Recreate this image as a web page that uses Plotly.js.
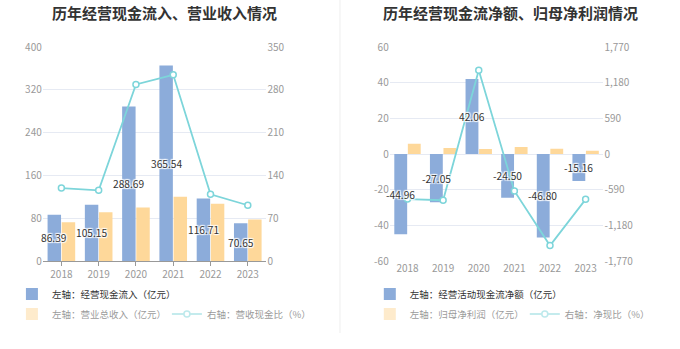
<!DOCTYPE html>
<html><head><meta charset="utf-8">
<script src="https://cdn.plot.ly/plotly-3.0.1.min.js"></script>
<style>html,body{margin:0;padding:0;background:#fff}#chart{width:680px;height:349px}</style>
</head><body><div id="chart"></div>
<script>
// ---- data ----
const years = ['2018','2019','2020','2021','2022','2023'];
const cashInflow = [86.39, 105.15, 288.69, 365.54, 116.71, 70.65];
const revenue = [72.5, 91, 100, 120, 107, 77.5];
const cashRevenueRatio = [119.2, 115.6, 288.7, 304.6, 109.1, 91.2];
const netCashFlow = [-44.96, -27.05, 42.06, -24.50, -46.80, -15.16];
const netProfit = [5.8, 3.4, 2.8, 3.9, 3.0, 1.85];
const netCashRatio = [-745, -765, 1385, -610, -1515, -750];

const leftTicks = [0, 80, 160, 240, 320, 400];
const leftRightTicks = [0, 70, 140, 210, 280, 350];
const rightTicks = [-60, -40, -20, 0, 20, 40, 60];
const rightRightTicks = [-1770, -1180, -590, 0, 590, 1180, 1770];
const rightRightTickText = ['-1,770', '-1,180', '-590', '0', '590', '1,180', '1,770'];

const names = {
  inflow: '左轴：经营现金流入（亿元）',
  revenue: '左轴：营业总收入（亿元）',
  ratio1: '右轴：营收现金比（%）',
  ncf: '左轴：经营活动现金流净额（亿元）',
  profit: '左轴：归母净利润（亿元）',
  ratio2: '右轴：净现比（%）'
};
const titles = ['历年经营现金流入、营业收入情况', '历年经营现金流净额、归母净利润情况'];

// ---- style ----
const W = 680, H = 349;
const BLUE = '#8cacda', YELLOW = '#fed89a', TEAL = '#7dd5da';
const FONT = 'Noto Sans CJK SC, Noto Sans, sans-serif';
const GRID = '#e6eaf3', AX = '#999';
const shadow = '1px 1px 1px #fff, -1px -1px 1px #fff, 1px -1px 1px #fff, -1px 1px 1px #fff, 0 0 2px #fff';
const labelFont = {family: FONT, size: 10.2, color: '#333', shadow: shadow};
const tickFont = {family: FONT, size: 10, color: '#999'};

const Lx = [43 / W, 268 / W], Rx = [392 / W, 607 / W];
const Yd = [(H - 261) / H, (H - 47) / H];
const zeroFrac = Yd[0] + (Yd[1] - Yd[0]) * (0 - rightTicks[0]) / (rightTicks[rightTicks.length - 1] - rightTicks[0]);

const lineStyle = {mode: 'lines+markers', line: {color: TEAL, width: 1.8}, marker: {symbol: 'circle', size: 6, color: '#fff', line: {color: TEAL, width: 1.5}}};

const traces = [
  {type: 'bar', x: years, y: cashInflow, name: names.inflow, marker: {color: BLUE}, xaxis: 'x', yaxis: 'y', legend: 'legend', hoverinfo: 'none'},
  {type: 'bar', x: years, y: revenue, name: names.revenue, marker: {color: YELLOW}, xaxis: 'x', yaxis: 'y', showlegend: false, hoverinfo: 'none'},
  Object.assign({type: 'scatter', x: years, y: cashRevenueRatio, name: names.ratio1, xaxis: 'x', yaxis: 'y2', showlegend: false, hoverinfo: 'none'}, lineStyle),
  {type: 'bar', x: years, y: revenue, name: names.revenue, marker: {color: YELLOW}, xaxis: 'x', yaxis: 'y', legend: 'legend2', visible: 'legendonly'},
  Object.assign({type: 'scatter', x: years, y: cashRevenueRatio, name: names.ratio1, xaxis: 'x', yaxis: 'y2', legend: 'legend2', visible: 'legendonly'}, lineStyle),

  {type: 'bar', x: years, y: netCashFlow, name: names.ncf, marker: {color: BLUE}, xaxis: 'x2', yaxis: 'y3', legend: 'legend3', hoverinfo: 'none'},
  {type: 'bar', x: years, y: netProfit, name: names.profit, marker: {color: YELLOW}, xaxis: 'x2', yaxis: 'y3', showlegend: false, hoverinfo: 'none'},
  Object.assign({type: 'scatter', x: years, y: netCashRatio, name: names.ratio2, xaxis: 'x2', yaxis: 'y4', showlegend: false, hoverinfo: 'none'}, lineStyle),
  {type: 'bar', x: years, y: netProfit, name: names.profit, marker: {color: YELLOW}, xaxis: 'x2', yaxis: 'y3', legend: 'legend4', visible: 'legendonly'},
  Object.assign({type: 'scatter', x: years, y: netCashRatio, name: names.ratio2, xaxis: 'x2', yaxis: 'y4', legend: 'legend4', visible: 'legendonly'}, lineStyle)
];

// value labels centred in the blue bars (drawn above all bars); x = category index
function barLabels(vals, xref, yref, shift) {
  return years.map((yr, i) => ({
    xref: xref, yref: yref, x: i, y: vals[i] / 2, xshift: shift,
    xanchor: 'center', yanchor: 'middle', showarrow: false,
    text: vals[i].toFixed(2), font: labelFont
  }));
}

const legendBase = {orientation: 'h', bgcolor: 'rgba(0,0,0,0)', font: {family: FONT, size: 9.5, color: '#333'}, xanchor: 'left', yanchor: 'middle', traceorder: 'normal', itemclick: false, entrywidthmode: 'pixels'};
const idx = years.map((_, i) => i);

const layout = {
  width: W, height: H,
  margin: {l: 0, r: 0, t: 0, b: 0},
  paper_bgcolor: '#fff', plot_bgcolor: '#fff',
  font: {family: FONT},
  barmode: 'group', bargap: 0.24, bargroupgap: 0.05,
  showlegend: true,
  xaxis: {domain: Lx, anchor: 'y', type: 'category', categoryorder: 'array', categoryarray: years, range: [-0.5, years.length - 0.5], showline: true, linecolor: AX, linewidth: 1, ticks: 'outside', ticklen: 4, tickcolor: AX, tickfont: tickFont, showgrid: false, fixedrange: true},
  yaxis: {domain: Yd, anchor: 'x', range: [0, 400], tickvals: leftTicks, gridcolor: GRID, zeroline: false, tickfont: tickFont, ticks: '', fixedrange: true},
  yaxis2: {overlaying: 'y', side: 'right', anchor: 'x', range: [0, 350], tickvals: leftRightTicks, showgrid: false, zeroline: false, tickfont: tickFont, fixedrange: true},
  xaxis2: {domain: Rx, anchor: 'y3', type: 'category', categoryorder: 'array', categoryarray: years, range: [-0.5, years.length - 0.5], showline: false, ticks: '', tickfont: tickFont, showgrid: false, fixedrange: true},
  xaxis3: {overlaying: 'x2', anchor: 'free', position: zeroFrac, type: 'linear', range: [-0.5, years.length - 0.5], tickvals: idx, showticklabels: false, showline: true, linecolor: AX, linewidth: 1, ticks: 'outside', ticklen: 4, tickcolor: AX, showgrid: false, zeroline: false, fixedrange: true},
  yaxis3: {domain: Yd, anchor: 'x2', range: [-60, 60], tickvals: rightTicks, ticktext: rightTicks.map(String), gridcolor: GRID, zeroline: false, tickfont: tickFont, fixedrange: true},
  yaxis4: {overlaying: 'y3', side: 'right', anchor: 'x2', range: [-1770, 1770], tickvals: rightRightTicks, ticktext: rightRightTickText, showgrid: false, zeroline: false, tickfont: tickFont, fixedrange: true},
  legend: Object.assign({}, legendBase, {x: 12 / W, y: (H - 294) / H}),
  legend2: Object.assign({}, legendBase, {x: 12 / W, y: (H - 314) / H, entrywidth: 110}),
  legend3: Object.assign({}, legendBase, {x: 372 / W, y: (H - 294) / H}),
  legend4: Object.assign({}, legendBase, {x: 372 / W, y: (H - 314) / H, entrywidth: 110}),
  annotations: [
    {xref: 'paper', yref: 'paper', x: 165 / W, y: (H - 12) / H, xanchor: 'center', yanchor: 'middle', showarrow: false, text: titles[0], font: {family: FONT, size: 15, color: '#333', weight: 'bold'}},
    {xref: 'paper', yref: 'paper', x: 514 / W, y: (H - 12) / H, xanchor: 'center', yanchor: 'middle', showarrow: false, text: titles[1], font: {family: FONT, size: 15, color: '#333', weight: 'bold'}}
  ].concat(barLabels(cashInflow, 'x', 'y', -7)).concat(barLabels(netCashFlow, 'x2', 'y3', -7)),
  shapes: [
    {type: 'line', xref: 'paper', yref: 'paper', x0: 342 / W, x1: 342 / W, y0: (H - 333) / H, y1: 1, line: {color: '#eeeeee', width: 1}}
  ]
};

Plotly.newPlot('chart', traces, layout, {displayModeBar: false, staticPlot: true});
</script>
</body></html>
